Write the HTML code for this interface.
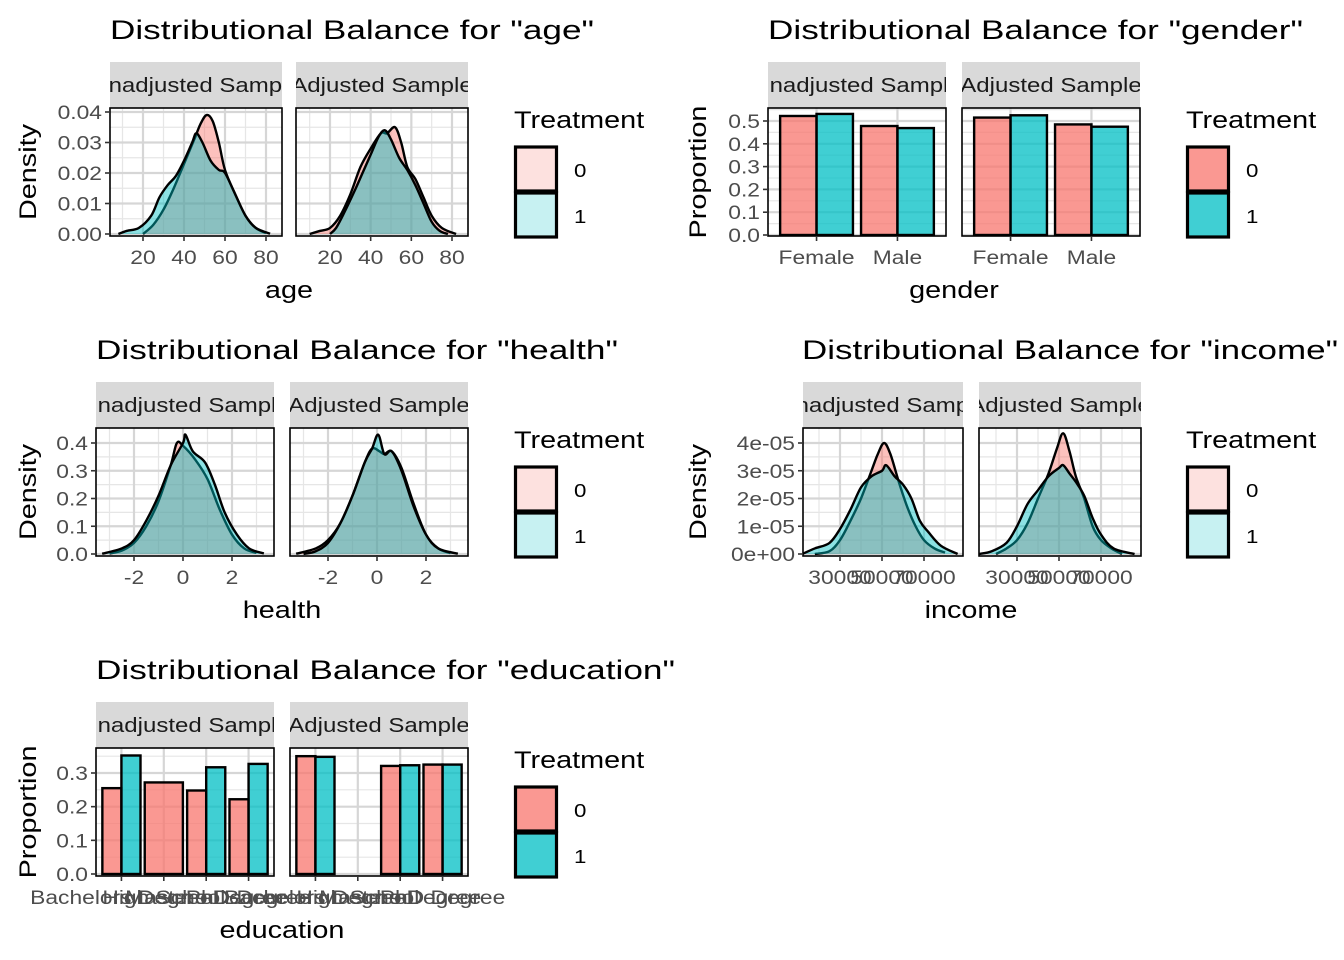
<!DOCTYPE html>
<html><head><meta charset="utf-8"><style>
html,body{margin:0;padding:0;background:#fff;}
svg{display:block;font-family:"Liberation Sans",Arial,sans-serif;}
</style></head><body>
<svg id="chart" width="1344" height="960" viewBox="0 0 1344 960"></svg>
<script>
// ---------- DATA ----------
const ageUnadjX0=[20,25,30,35,40,45,48,51,54,57,60,65,70,75,80];
const ageUnadjY0=[0.0,0.003,0.008,0.015,0.023,0.031,0.036,0.039,0.037,0.030,0.021,0.013,0.006,0.002,0.0003];
const ageUnadjX1=[8,12,18,24,28,32,36,40,44,46,49,53,57,60,65,70,75,82];
const ageUnadjY1=[0,0.001,0.002,0.006,0.012,0.016,0.019,0.024,0.030,0.033,0.030,0.024,0.021,0.020,0.013,0.006,0.002,0.0001];
const ageAdjX0=[10,15,20,25,30,35,40,45,48,52,55,58,62,66,70,75,82];
const ageAdjY0=[0,0.001,0.002,0.006,0.013,0.022,0.028,0.033,0.033,0.035,0.030,0.022,0.018,0.012,0.006,0.002,0];
const ageAdjX1=[20,23,27,32,36,40,44,47,50,54,58,62,66,70,74,78];
const ageAdjY1=[0,0.002,0.007,0.014,0.020,0.026,0.032,0.034,0.031,0.025,0.021,0.016,0.010,0.004,0.001,0];

const healthUnadjX0=[-3,-2.5,-2,-1.5,-1,-0.5,-0.25,0,0.5,1,1.5,2,2.5,3];
const healthUnadjY0=[0.002,0.012,0.04,0.10,0.19,0.32,0.40,0.39,0.34,0.27,0.16,0.07,0.02,0.004];
const healthUnadjX1=[-3.3,-2.5,-2,-1.5,-1,-0.5,0,0.1,0.4,0.9,1.3,1.7,2.2,2.7,3.3];
const healthUnadjY1=[0.001,0.02,0.05,0.12,0.21,0.32,0.40,0.43,0.37,0.33,0.25,0.15,0.07,0.02,0.002];
const healthAdjX0=[-3.3,-2.5,-2,-1.5,-1,-0.5,-0.2,0.1,0.3,0.6,1,1.5,2,2.5,3];
const healthAdjY0=[0.001,0.02,0.05,0.11,0.21,0.33,0.38,0.37,0.36,0.37,0.31,0.18,0.07,0.02,0.003];
const healthAdjX1=[-3,-2.5,-2,-1.5,-1,-0.5,-0.2,0.05,0.3,0.6,1,1.5,2,2.5,3.3];
const healthAdjY1=[0,0.01,0.04,0.11,0.21,0.33,0.38,0.43,0.36,0.37,0.30,0.17,0.07,0.02,0.001];

const incUnadjX0=[18000,25000,30000,35000,40000,45000,48000,51000,54000,58000,62000,66000,70000,75000,80000];
const incUnadjY0=[0,0.1e-5,0.5e-5,1.2e-5,2.0e-5,3.0e-5,3.6e-5,4.0e-5,3.6e-5,2.6e-5,1.7e-5,1.0e-5,0.5e-5,0.2e-5,0.05e-5];
const incUnadjX1=[12000,18000,25000,30000,35000,40000,45000,50000,52000,56000,60000,64000,68000,72000,78000,86000];
const incUnadjY1=[0,0.2e-5,0.4e-5,0.9e-5,1.6e-5,2.4e-5,2.8e-5,3.0e-5,3.2e-5,2.8e-5,2.5e-5,2.0e-5,1.2e-5,0.8e-5,0.3e-5,0];
const incAdjX0=[20000,25000,30000,35000,40000,45000,49000,52000,55000,58000,62000,66000,70000,75000,80000];
const incAdjY0=[0,0.2e-5,0.5e-5,1.1e-5,2.0e-5,2.9e-5,3.8e-5,4.35e-5,3.7e-5,2.8e-5,2.0e-5,1.0e-5,0.5e-5,0.2e-5,0];
const incAdjX1=[12000,18000,25000,30000,35000,40000,45000,50000,52000,55000,58000,62000,66000,70000,76000,86000];
const incAdjY1=[0,0.1e-5,0.4e-5,1.0e-5,1.8e-5,2.3e-5,2.8e-5,3.1e-5,3.2e-5,2.9e-5,2.6e-5,2.1e-5,1.3e-5,0.7e-5,0.2e-5,0];

const genderCats=["Female","Male"];
const genderUnadj0=[0.522,0.478];
const genderUnadj1=[0.531,0.469];
const genderAdj0=[0.515,0.485];
const genderAdj1=[0.525,0.475];

const eduCats=["Bachelors Degree","High School","Masters Degree","PhD Degree"];
const eduUnadj0=[0.255,0.272,0.248,0.222];
const eduUnadj1=[0.352,null,0.317,0.327];
const eduAdj0=[0.350,null,0.321,0.325];
const eduAdj1=[0.348,null,0.323,0.325];

const ageTicks=[20,40,60,80];
const ageYTicks=["0.00","0.01","0.02","0.03","0.04"];
const healthTicks=[-2,0,2];
const healthYTicks=["0.0","0.1","0.2","0.3","0.4"];
const incTicks=[30000,50000,70000];
const incYTicks=["0e+00","1e-05","2e-05","3e-05","4e-05"];
const genderYTicks=["0.0","0.1","0.2","0.3","0.4","0.5"];
const eduYTicks=["0.0","0.1","0.2","0.3"];

// ---------- HELPERS ----------
const NS="http://www.w3.org/2000/svg";
const svg=document.getElementById('chart');
function el(tag,attrs,parent){const e=document.createElementNS(NS,tag);for(const k in attrs)e.setAttribute(k,attrs[k]);(parent||svg).appendChild(e);return e;}
function lin(d0,d1,r0,r1){return v=>r0+(v-d0)*(r1-r0)/(d1-d0);}
const RED="#F8766D",TEAL="#00BFC4";
const WIDEN=[];
let clipId=0;
function smoothPath(pts){
  let d="M"+pts[0][0]+","+pts[0][1];
  for(let i=0;i<pts.length-1;i++){
    const p0=pts[Math.max(0,i-1)],p1=pts[i],p2=pts[i+1],p3=pts[Math.min(pts.length-1,i+2)];
    const c1x=p1[0]+(p2[0]-p0[0])/6,c1y=p1[1]+(p2[1]-p0[1])/6;
    const c2x=p2[0]-(p3[0]-p1[0])/6,c2y=p2[1]-(p3[1]-p1[1])/6;
    d+=" C"+c1x+","+c1y+" "+c2x+","+c2y+" "+p2[0]+","+p2[1];
  }
  return d;
}
function text(str,x,y,attrs,parent){const t=el('text',Object.assign({x:x,y:y},attrs||{}),parent);t.textContent=str;WIDEN.push(t);return t;}

function panelFrame(x0,x1,y0,y1,stripLabel,grid){
  const sr=el('rect',{x:x0,y:y0-46,width:x1-x0,height:46,fill:"#D9D9D9"});
  
  
  const cid="c"+(clipId++);
  const cp=el('clipPath',{id:cid});el('rect',{x:x0,y:y0-46,width:x1-x0,height:46},cp);
  const sg=el('g',{"clip-path":"url(#"+cid+")"});
  const st=text(stripLabel,(x0+x1)/2,y0-16,{"text-anchor":"middle","font-size":"20","fill":"#1A1A1A"},sg);
  
  
  const bg=el('rect',{x:x0,y:y0,width:x1-x0,height:y1-y0,fill:"#fff"});
  
  
  grid.minX.forEach(p=>el('line',{x1:p,x2:p,y1:y0,y2:y1,stroke:"#E6E6E6","stroke-width":1.2}));
  grid.minY.forEach(p=>el('line',{x1:x0,x2:x1,y1:p,y2:p,stroke:"#E6E6E6","stroke-width":1.2}));
  grid.majX.forEach(p=>el('line',{x1:p,x2:p,y1:y0,y2:y1,stroke:"#D6D6D6","stroke-width":2.2}));
  grid.majY.forEach(p=>el('line',{x1:x0,x2:x1,y1:p,y2:p,stroke:"#D6D6D6","stroke-width":2.2}));
  const pc="p"+(clipId++);
  const cp2=el('clipPath',{id:pc});el('rect',{x:x0,y:y0,width:x1-x0,height:y1-y0},cp2);
  return el('g',{"clip-path":"url(#"+pc+")"});
}
function panelBorder(x0,x1,y0,y1){
  const b=el('rect',{x:x0,y:y0,width:x1-x0,height:y1-y0,fill:"none",stroke:"#000","stroke-width":1.6});
  
  
}
function xTicks(positions,labels,y1,labY){
  positions.forEach((p,i)=>{
    el('line',{x1:p,x2:p,y1:y1,y2:y1+5,stroke:"#333","stroke-width":1.6});
    const t=text(labels[i],p,labY,{"text-anchor":"middle","font-size":"19","fill":"#4D4D4D"});
    
    
  });
}
function yTicks(positions,labels,x0){
  positions.forEach((p,i)=>{
    el('line',{x1:x0-5,x2:x0,y1:p,y2:p,stroke:"#333","stroke-width":1.6});
    const t=text(labels[i],x0-8,p+7,{"text-anchor":"end","font-size":"19","fill":"#4D4D4D"});
    
    
  });
}
function densitySeries(g,xs,ys,X,Y,color,name){
  const pts=xs.map((v,i)=>[X(v),Y(ys[i])]);
  const curve=smoothPath(pts);
  const a=el('path',{d:curve+" L"+pts[pts.length-1][0]+","+Y(0)+" L"+pts[0][0]+","+Y(0)+" Z",fill:color,"fill-opacity":0.45,stroke:"none"},g);
  
  
  const l=el('path',{d:curve,fill:"none",stroke:"#000","stroke-width":2.4},g);
  
  
}
function title(str,x,y,len){
  const t=el('text',{x:x,y:y,"font-size":"26.5","fill":"#000",textLength:len,lengthAdjust:"spacingAndGlyphs"});
  t.textContent=str;
  
  
}
function axisTitle(str,x,y,rot){
  const t=text(str,x,y,{"text-anchor":"middle","font-size":"24","fill":"#000"});
  if(rot)t.setAttribute('transform','rotate(-90 '+x+' '+y+')');
  
  
}
function legend(x,yTop,dens){
  const t=text("Treatment",x,yTop+9,{"font-size":"24","fill":"#000"});
  
  
  [RED,TEAL].forEach((c,i)=>{
    const r=el('rect',{x:x+1.5,y:yTop+28+i*46,width:41,height:44,fill:c,"fill-opacity":dens?0.22:0.75,stroke:"#000","stroke-width":3.2});
    
    
    const lt=text(String(i),x+60,yTop+58+i*46,{"font-size":"18.5","fill":"#000"});
    
    
  });
}

// ---------- DENSITY PLOTS ----------
function densityPlot(cfg){
  cfg.panels.forEach((p,pi)=>{
    const X=lin(cfg.xRef[0],cfg.xRef[1],p.xr[0],p.xr[1]);
    const Y=lin(0,cfg.yRef,cfg.y0px,cfg.yRefPx);
    const grid={majX:cfg.majX.map(X),minX:cfg.minX.map(X),majY:cfg.majY.map(Y),minY:cfg.minY.map(Y)};
    const g=panelFrame(p.x0,p.x1,cfg.py0,cfg.py1,pi===0?"Unadjusted Sample":"Adjusted Sample",grid);
    densitySeries(g,p.s0[0],p.s0[1],X,Y,RED,cfg.name+'-treat0');
    densitySeries(g,p.s1[0],p.s1[1],X,Y,TEAL,cfg.name+'-treat1');
    panelBorder(p.x0,p.x1,cfg.py0,cfg.py1);
    xTicks(cfg.xTicks.map(X),cfg.xTicks.map(String),cfg.py1,cfg.py1+28);
    if(pi===0)yTicks(cfg.majY.map(Y),cfg.yLabels,p.x0);
  });
}
densityPlot({name:'age',py0:108,py1:236,y0px:234,yRef:0.04,yRefPx:112,xRef:[20,80],
  majX:ageTicks,minX:[10,30,50,70],majY:[0,0.01,0.02,0.03,0.04],minY:[0.005,0.015,0.025,0.035],
  xTicks:ageTicks,yLabels:ageYTicks,
  panels:[{x0:110,x1:282,xr:[143,266],s0:[ageUnadjX0,ageUnadjY0],s1:[ageUnadjX1,ageUnadjY1]},
          {x0:296,x1:468,xr:[330,452],s0:[ageAdjX0,ageAdjY0],s1:[ageAdjX1,ageAdjY1]}]});
densityPlot({name:'health',py0:428,py1:556,y0px:554,yRef:0.4,yRefPx:443,xRef:[-2,2],
  majX:healthTicks,minX:[-3,-1,1,3],majY:[0,0.1,0.2,0.3,0.4],minY:[0.05,0.15,0.25,0.35],
  xTicks:healthTicks,yLabels:healthYTicks,
  panels:[{x0:96,x1:274,xr:[134,232],s0:[healthUnadjX0,healthUnadjY0],s1:[healthUnadjX1,healthUnadjY1]},
          {x0:290,x1:468,xr:[328,426],s0:[healthAdjX0,healthAdjY0],s1:[healthAdjX1,healthAdjY1]}]});
densityPlot({name:'income',py0:428,py1:556,y0px:554,yRef:4e-5,yRefPx:443,xRef:[30000,70000],
  majX:incTicks,minX:[20000,40000,60000,80000],majY:[0,1e-5,2e-5,3e-5,4e-5],minY:[0.5e-5,1.5e-5,2.5e-5,3.5e-5],
  xTicks:incTicks,yLabels:incYTicks,
  panels:[{x0:803,x1:963,xr:[840,924],s0:[incUnadjX0,incUnadjY0],s1:[incUnadjX1,incUnadjY1]},
          {x0:979,x1:1141,xr:[1017,1101],s0:[incAdjX0,incAdjY0],s1:[incAdjX1,incAdjY1]}]});

// ---------- BAR PLOTS ----------
function barPlot(cfg){
  cfg.panels.forEach((p,pi)=>{
    const n=cfg.cats.length;
    const X=lin(0.4,n+0.6,p.x0,p.x1);
    const Y=lin(0,cfg.yRef,cfg.y0px,cfg.yRefPx);
    const catPos=cfg.cats.map((c,i)=>X(i+1));
    const grid={majX:catPos,minX:[],majY:cfg.majY.map(Y),minY:cfg.minY.map(Y)};
    const g=panelFrame(p.x0,p.x1,cfg.py0,cfg.py1,pi===0?"Unadjusted Sample":"Adjusted Sample",grid);
    cfg.cats.forEach((c,i)=>{
      const v0=p.v0[i],v1=p.v1[i];
      const groups=[];
      if(v0!=null)groups.push([v0,RED,0]);
      if(v1!=null)groups.push([v1,TEAL,1]);
      const w=0.9/groups.length;
      groups.forEach((gr,k)=>{
        const left=X(i+1-0.45+k*w),right=X(i+1-0.45+(k+1)*w);
        const r=el('rect',{x:left,y:Y(gr[0]),width:right-left,height:Y(0)-Y(gr[0]),fill:gr[1],"fill-opacity":0.75,stroke:"#000","stroke-width":2.4},g);
        
        
      });
    });
    panelBorder(p.x0,p.x1,cfg.py0,cfg.py1);
    xTicks(catPos,cfg.cats,cfg.py1,cfg.py1+28);
    if(pi===0)yTicks(cfg.majY.map(Y),cfg.yLabels,p.x0);
  });
}
barPlot({name:'gender',cats:genderCats,py0:108,py1:236,y0px:235,yRef:0.5,yRefPx:121,
  majY:[0,0.1,0.2,0.3,0.4,0.5],minY:[0.05,0.15,0.25,0.35,0.45,0.55],yLabels:genderYTicks,
  panels:[{x0:768,x1:946,v0:genderUnadj0,v1:genderUnadj1},{x0:962,x1:1140,v0:genderAdj0,v1:genderAdj1}]});
barPlot({name:'education',cats:eduCats,py0:748,py1:876,y0px:874,yRef:0.3,yRefPx:773,
  majY:[0,0.1,0.2,0.3],minY:[0.05,0.15,0.25,0.35],yLabels:eduYTicks,
  panels:[{x0:96,x1:274,v0:eduUnadj0,v1:eduUnadj1},{x0:290,x1:468,v0:eduAdj0,v1:eduAdj1}]});

// ---------- TITLES / LABELS / LEGENDS ----------
title('Distributional Balance for "age"',110,39,484);
title('Distributional Balance for "gender"',768,39,535);
title('Distributional Balance for "health"',96,359,522);
title('Distributional Balance for "income"',802,359,536);
title('Distributional Balance for "education"',96,679,579);
axisTitle('age',289,298,false);
axisTitle('gender',954,298,false);
axisTitle('health',282,618,false);
axisTitle('income',971,618,false);
axisTitle('education',282,938,false);
axisTitle('Density',36,172,true);
axisTitle('Proportion',706,172,true);
axisTitle('Density',36,492,true);
axisTitle('Density',706,492,true);
axisTitle('Proportion',36,812,true);
legend(514,119,true);
legend(1186,119,false);
legend(514,439,true);
legend(1186,439,true);
legend(514,759,false);

// reference font is wider than Liberation Sans: stretch text horizontally
WIDEN.forEach(t=>{
  const w=t.getComputedTextLength();
  if(w>0){t.setAttribute('textLength',(w*1.2).toFixed(1));t.setAttribute('lengthAdjust','spacingAndGlyphs');}
});
</script>
</body></html>
